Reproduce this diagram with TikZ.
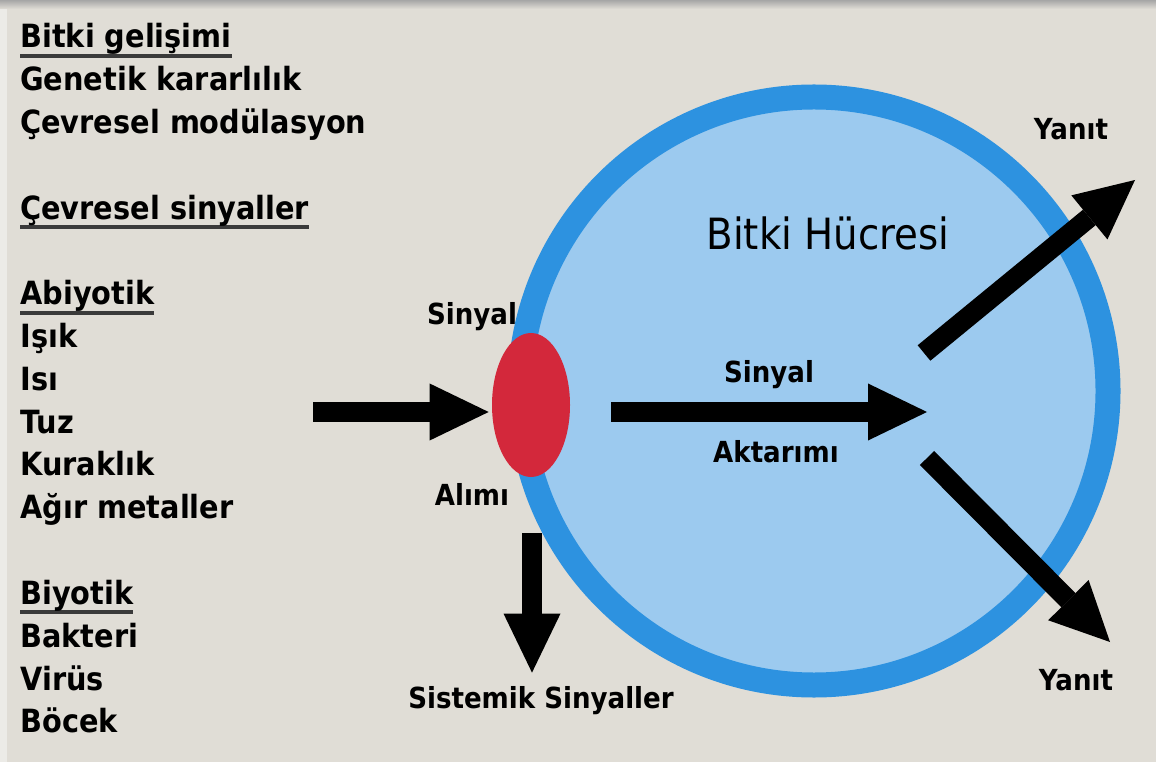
\documentclass[tikz,border=0pt]{standalone}
\usepackage{fontspec}
\setmainfont{DejaVu Sans}[FakeStretch=0.9]
\usepackage{tikz}
\usetikzlibrary{positioning,arrows.meta,shapes.geometric}
\definecolor{paper}{HTML}{E0DDD6}
\definecolor{wall}{HTML}{2D92E0}
\definecolor{plasma}{HTML}{9CCAEF}
\definecolor{receptor}{HTML}{D3283B}
\definecolor{rulegray}{HTML}{3A3A3A}
\newcommand{\headline}[1]{\sbox0{#1}\rlap{\textcolor{rulegray}{\rule[-2mm]{\wd0}{0.8mm}}}\usebox0}

\begin{document}
\begin{tikzpicture}[x=0.2mm, y=-0.2mm, every node/.style={inner sep=0pt},
  txt/.style={font=\bfseries\fontsize{18.2}{22}\selectfont, anchor=base west},
  lab/.style={font=\bfseries\fontsize{16.5}{20}\selectfont, anchor=base},
  arr/.style={line width=4mm, -{Triangle[length=11.8mm, width=11.4mm, line width=0pt]}}]
\useasboundingbox (0,0) rectangle (1156,762);
\fill[paper] (0,0) rectangle (1156,762);
\fill[top color=black!35, bottom color=paper] (0,0) rectangle (1156,9);
\fill[white!40!paper] (0,9) rectangle (7,762);
% cell and receptor
\node[circle, draw=wall, fill=plasma, line width=5mm, minimum size=117.6mm] (cell) at (814,391) {};
\node[ellipse, fill=receptor, minimum width=15.6mm, minimum height=28.8mm] (rec) at (531,405) {};
% left column
\foreach \i/\t in {0/{\headline{Bitki gelişimi}}, 1/Genetik kararlılık, 2/Çevresel modülasyon,
  4/{\headline{Çevresel sinyaller}}, 6/{\headline{Abiyotik}}, 7/Işık, 8/Isı, 9/Tuz, 10/Kuraklık,
  11/Ağır metaller, 13/{\headline{Biyotik}}, 14/Bakteri, 15/Virüs, 16/Böcek}
  \node[txt] (l\i) at (20, 48+42.8*\i) {\t};
% labels
\node[lab, font=\fontsize{24.5}{29}\selectfont] (name) at (828,250) {Bitki Hücresi};
\node[lab] (sig) at (472,325) {Sinyal};
\node[lab] (upt) at (472,505) {Alımı};
\node[lab] (sig2) at (769,383) {Sinyal};
\node[lab] (trans) at (776,463) {Aktarımı};
\node[lab] (yan1) at (1071,140) {Yanıt};
\node[lab] (yan2) at (1076,690) {Yanıt};
\node[lab] (sys) at (541,708) {Sistemik Sinyaller};
% arrows
\coordinate (in) at (313,412);
\coordinate (hub) at (927,412);
\coordinate (up0) at (924,353);
\coordinate (up1) at (1135,180);
\coordinate (dn0) at (927,458);
\coordinate (dn1) at (1110,642);
\coordinate (sys0) at (532,533);
\draw[arr, shorten >=0.6mm] (in) -- (rec.west |- in);
\draw[arr, shorten <=8.2mm] (rec.east |- hub) -- (hub);
\draw[arr] (up0) -- (up1);
\draw[arr] (dn0) -- (dn1);
\draw[arr, shorten >=2.6mm] (sys0) -- (sys0 |- sys.north);
\end{tikzpicture}
\end{document}
